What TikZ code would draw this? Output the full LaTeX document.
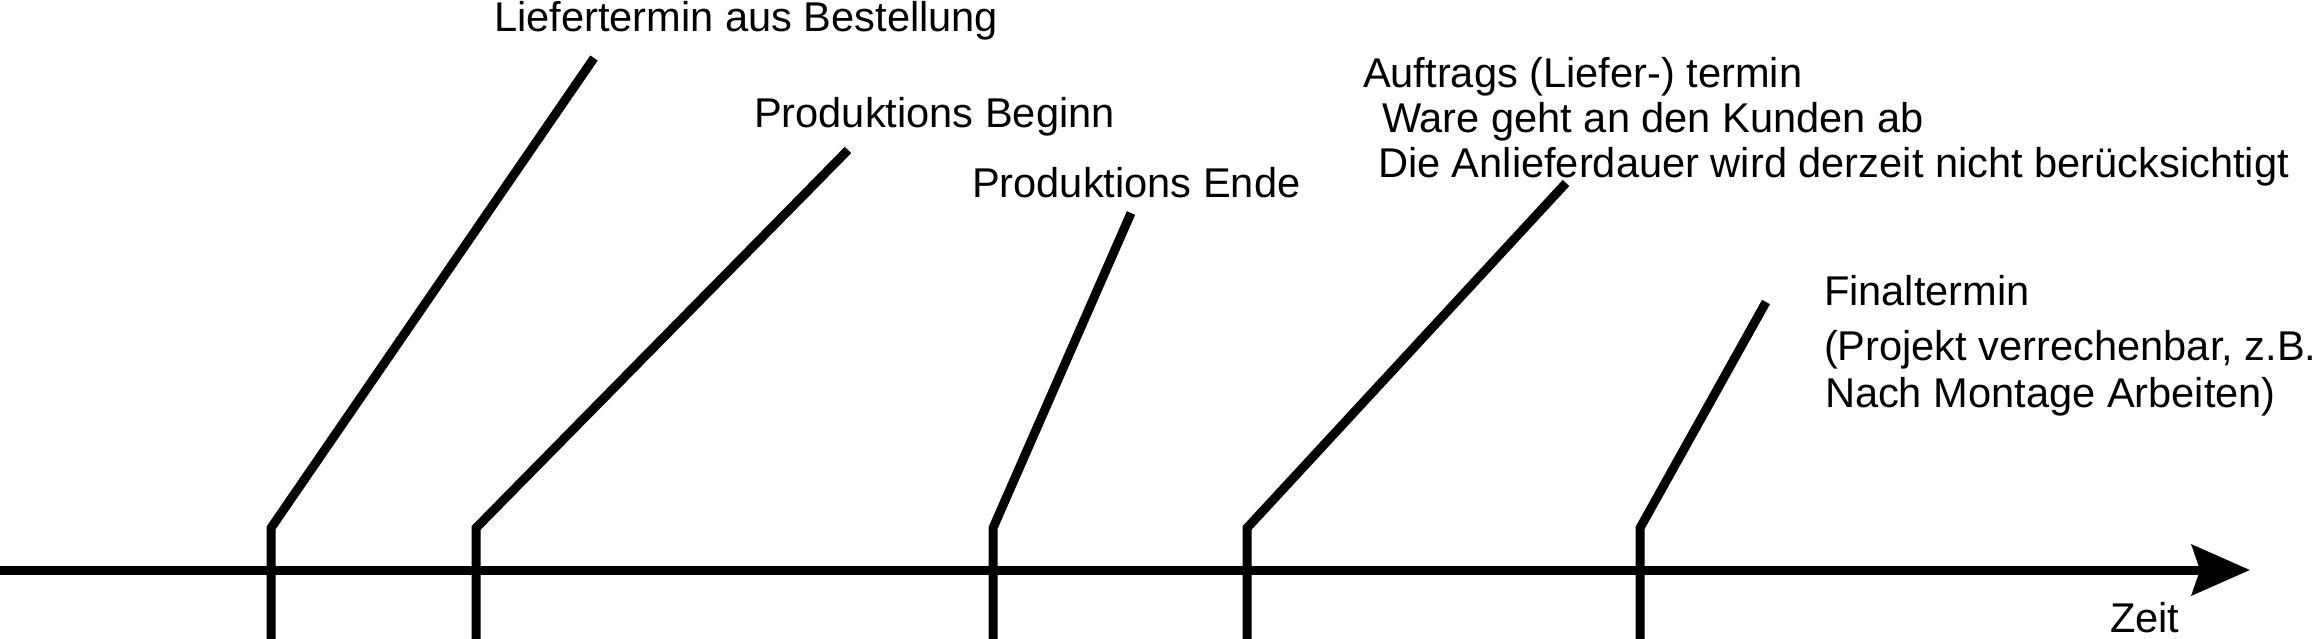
\documentclass[tikz,border=0pt]{standalone}
\usepackage{fontspec}
\setmainfont{Liberation Sans}
\usetikzlibrary{arrows.meta}
\tikzset{
  lbl/.style={anchor=base west, inner sep=0pt, outer sep=0pt, font=\fontsize{41.6}{46}\selectfont},
  marker/.style={line width=9pt, line join=miter},
  axis/.style={line width=9pt, -{Stealth[length=58pt,width=50pt,inset=8pt]}}
}
\begin{document}
\begin{tikzpicture}[x=1pt,y=-1pt]
\useasboundingbox (0,0) rectangle (2314,638);
% axis
\coordinate (a0) at (0,570);
\coordinate (a1) at (2250,570);
\draw[axis] (a0) -- (a1);
\node[lbl] (zeit) at (2110,632) {Zeit};
% markers
\coordinate (b1) at (271,640); \coordinate (k1) at (271,528); \coordinate (t1) at (594,58);
\coordinate (b2) at (476,640); \coordinate (k2) at (476,528); \coordinate (t2) at (848,150);
\coordinate (b3) at (993,640); \coordinate (k3) at (993,528); \coordinate (t3) at (1131,213);
\coordinate (b4) at (1247,640); \coordinate (k4) at (1247,528); \coordinate (t4) at (1566,183);
\coordinate (b5) at (1640,640); \coordinate (k5) at (1640,528); \coordinate (t5) at (1766,302);
\foreach \i in {1,...,5}{\draw[marker] (b\i) -- (k\i) -- (t\i);}
% labels
\node[lbl] (l1) at (494,31) {Liefertermin aus Bestellung};
\node[lbl] (l2) at (754,127) {Produktions Beginn};
\node[lbl] (l3) at (972,197) {Produktions Ende};
\node[lbl] (l4a) at (1363,87) {Auftrags (Liefer-) termin};
\node[lbl] (l4b) at (1382,132) {Ware geht an den Kunden ab};
\node[lbl] (l4c) at (1378,177) {Die Anlieferdauer wird derzeit nicht berücksichtigt};
\node[lbl] (l5a) at (1824,305) {Finaltermin};
\node[lbl] (l5b) at (1824,360) {(Projekt verrechenbar, z.B.};
\node[lbl] (l5c) at (1825,407) {Nach Montage Arbeiten)};
\end{tikzpicture}
\end{document}
